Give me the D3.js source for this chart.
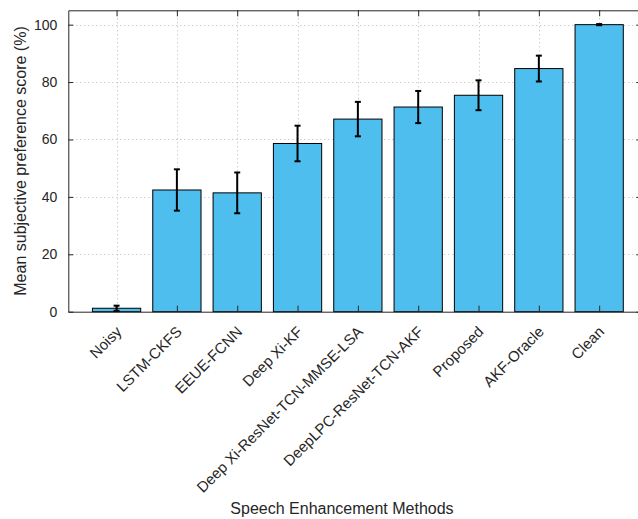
<!DOCTYPE html>
<html>
<head>
<meta charset="utf-8">
<script src="https://cdn.jsdelivr.net/npm/d3@7"></script>
<style>
  body { margin: 0; background: #fff; }
  svg { display: block; font-family: "Liberation Sans", Arial, sans-serif; }
</style>
</head>
<body>
<script>
var methods = ["Noisy", "LSTM-CKFS", "EEUE-FCNN", "Deep Xi-KF", "Deep Xi-ResNet-TCN-MMSE-LSA",
  "DeepLPC-ResNet-TCN-AKF", "Proposed", "AKF-Oracle", "Clean"];
var scores = [1.2, 42.4, 41.4, 58.6, 67.1, 71.3, 75.4, 84.7, 100];
var errors = [0.9, 7.2, 7.1, 6.2, 6.0, 5.6, 5.2, 4.5, 0.2];
var yTicks = [0, 20, 40, 60, 80, 100];

var width = 638;
var height = 519;
var padLeft = 68.3, padRight = 641.4, padTop = 10.3, padBottom = 311.7;
var axisColor = "#262626";

var svg = d3.select("body").append("svg")
  .attr("width", width)
  .attr("height", height);

var xScale = d3.scaleLinear().domain([0.2, 9.7]).range([padLeft, padRight]);
var yScale = d3.scaleLinear().domain([0, 105]).range([padBottom, padTop]);
var barWidth = xScale(1.8) - xScale(1);
var idx = methods.map((m, i) => i + 1);

// grid
var grid = svg.append("g").attr("stroke", "#b8b8b8").attr("stroke-width", 1)
  .attr("stroke-dasharray", "1,3");
grid.selectAll("line.h").data(yTicks.slice(1)).enter().append("line")
  .attr("x1", padLeft).attr("x2", padRight)
  .attr("y1", d => Math.round(yScale(d)) + 0.5).attr("y2", d => Math.round(yScale(d)) + 0.5);
grid.selectAll("line.v").data(idx).enter().append("line")
  .attr("y1", padTop).attr("y2", padBottom)
  .attr("x1", d => Math.round(xScale(d)) + 0.5).attr("x2", d => Math.round(xScale(d)) + 0.5);

// bars
svg.append("g").selectAll("rect").data(scores).enter().append("rect")
  .attr("x", (d, i) => xScale(i + 1) - barWidth / 2)
  .attr("y", d => yScale(d))
  .attr("width", barWidth)
  .attr("height", d => padBottom - yScale(d))
  .attr("fill", "#4DBEEE")
  .attr("stroke", "#000")
  .attr("stroke-width", 1);

// axes (box with inward ticks)
var xAxisB = d3.axisBottom(xScale).tickValues(idx).tickSizeInner(-6).tickSizeOuter(0).tickFormat("");
var xAxisT = d3.axisTop(xScale).tickValues(idx).tickSizeInner(-6).tickSizeOuter(0).tickFormat("");
var yAxisL = d3.axisLeft(yScale).tickValues(yTicks).tickSizeInner(-5).tickSizeOuter(0).tickPadding(11);
var yAxisR = d3.axisRight(yScale).tickValues(yTicks).tickSizeInner(-5).tickSizeOuter(0).tickFormat("");

function styleAxis(g) {
  g.selectAll("path, line").attr("stroke", axisColor);
  g.selectAll("text").attr("fill", axisColor).attr("font-size", 14)
    .attr("font-family", "Liberation Sans, Arial, sans-serif");
}

svg.append("g").attr("transform", "translate(0," + padBottom + ")").call(xAxisB).call(styleAxis);
svg.append("g").attr("transform", "translate(0," + padTop + ")").call(xAxisT).call(styleAxis);
svg.append("g").attr("transform", "translate(" + padLeft + ",0)").call(yAxisL).call(styleAxis);
svg.append("g").attr("transform", "translate(" + padRight + ",0)").call(yAxisR).call(styleAxis);

// error bars
var eb = svg.append("g").attr("stroke", "#000").attr("stroke-width", 2);
scores.forEach((d, i) => {
  var cx = xScale(i + 1);
  var y1 = yScale(d + errors[i]), y2 = yScale(d - errors[i]);
  eb.append("line").attr("x1", cx).attr("x2", cx).attr("y1", y1).attr("y2", y2);
  eb.append("line").attr("x1", cx - 3).attr("x2", cx + 3).attr("y1", y1).attr("y2", y1);
  eb.append("line").attr("x1", cx - 3).attr("x2", cx + 3).attr("y1", y2).attr("y2", y2);
});

// rotated category labels
svg.append("g").selectAll("text").data(methods).enter().append("text")
  .attr("transform", (d, i) => "translate(" + (xScale(i + 1) + 6) + "," + (padBottom + 21) + ") rotate(-45)")
  .attr("text-anchor", "end")
  .attr("font-size", 15)
  .attr("fill", axisColor)
  .text(d => d);

// axis titles
svg.append("text")
  .attr("transform", "translate(26," + ((padTop + padBottom) / 2) + ") rotate(-90)")
  .attr("text-anchor", "middle")
  .attr("font-size", 16)
  .attr("fill", axisColor)
  .text("Mean subjective preference score (%)");

svg.append("text")
  .attr("x", 342)
  .attr("y", 514)
  .attr("text-anchor", "middle")
  .attr("font-size", 16)
  .attr("fill", axisColor)
  .text("Speech Enhancement Methods");
</script>
</body>
</html>
